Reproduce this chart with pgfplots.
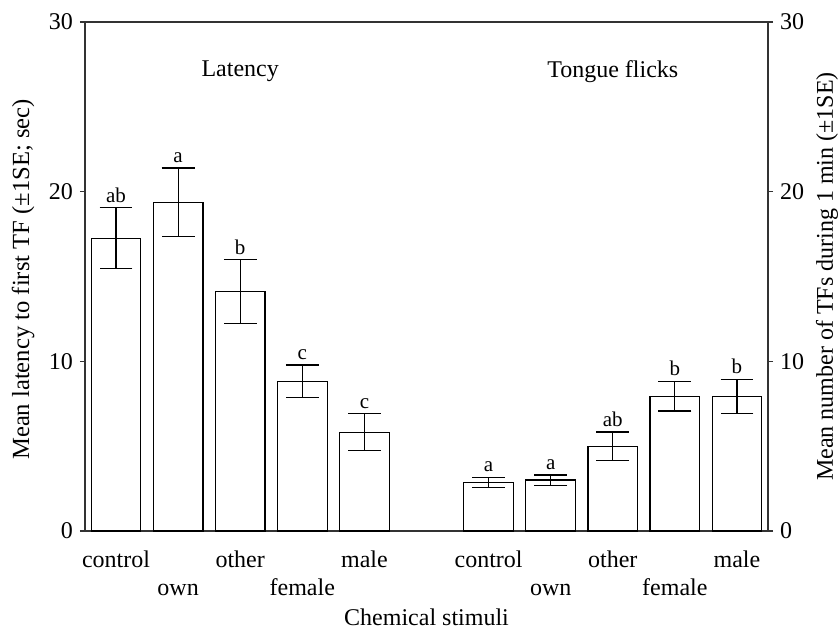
\documentclass[border=0pt]{standalone}
\usepackage{fontspec}
\setmainfont{Liberation Serif}
\usepackage{pgfplots}
\pgfplotsset{compat=1.18}
\usepackage{pgfplotstable}
\pgfplotstableread{
x y err lab
1 17.25 1.80 ab
2 19.37 2.02 a
3 14.12 1.87 b
4 8.82 0.96 c
5 5.82 1.09 c
7 2.87 0.30 a
8 3.00 0.30 a
9 5.00 0.83 ab
10 7.94 0.87 b
11 7.94 1.00 b
}\datatable
\begin{document}
\begin{tikzpicture}[font=\fontsize{12}{14}\selectfont]
\useasboundingbox (-42.5pt,-49.5pt) rectangle (376.5pt,265.5pt);
\begin{axis}[
  at={(0,0)}, anchor=south west,
  scale only axis, width=341.5pt, height=254.5pt,
  xmin=0.5, xmax=11.5, ymin=0, ymax=30,
  axis line style={black!80, line width=0.6pt},
  ytick={0,10,20,30}, ytick pos=left, tick align=outside,
  major tick length=2.5pt,
  ytick style={black!80, line width=0.6pt},
  xtick={1,3,5,7,9,11},
  xticklabels={control,other,male,control,other,male},
  extra x ticks={2,4,8,10},
  extra x tick labels={own,female,own,female},
  extra x tick style={xticklabel style={yshift=-14.3pt}},
  xtick style={draw=none},
  xticklabel style={anchor=base, yshift=-15.5pt},
  /pgf/number format/assume math mode=true,
  tick label style={font=\fontsize{12}{14}\selectfont},
  xlabel={Chemical stimuli},
  xlabel style={at={([yshift=-47pt]axis description cs:0.5,0)}, anchor=base},
  ylabel={Mean latency to first TF (±1SE; sec)},
  ylabel style={at={([xshift=-31pt,yshift=-1.5pt]axis description cs:0,0.5)}, anchor=center, font=\fontsize{12.3}{14}\selectfont},
  clip=false,
]
\addplot[ybar, bar width=0.8, fill=white, draw=black, line width=0.6pt,
  error bars/.cd, y dir=both, y explicit, error mark=-,
  error bar style={line width=0.6pt, black},
  error mark options={rotate=90, line width=0.6pt, black, mark size=8.2pt}]
  table[x=x, y=y, y error=err] {\datatable};
\addplot[only marks, mark=*, mark size=0pt, mark options={draw=none, fill=none},
  nodes near coords, point meta=explicit symbolic,
  nodes near coords style={anchor=south, inner sep=2.5pt, text=black, font=\fontsize{10.5}{12}\selectfont}]
  table[x=x, y expr=\thisrow{y}+\thisrow{err}, meta=lab] {\datatable};
\node at (axis cs:3,27.1) {Latency};
\node at (axis cs:9,27.1) {Tongue flicks};
\end{axis}
\begin{axis}[
  at={(0,0)}, anchor=south west,
  scale only axis, width=341.5pt, height=254.5pt,
  xmin=0.5, xmax=11.5, ymin=0, ymax=30,
  axis x line=none, axis y line*=right,
  axis line style={black!80, line width=0.6pt},
  ytick={0,10,20,30}, tick align=outside, major tick length=2.5pt,
  ytick style={black!80, line width=0.6pt},
  /pgf/number format/assume math mode=true,
  tick label style={font=\fontsize{12}{14}\selectfont},
  ylabel={Mean number of TFs during 1 min (±1SE)},
  ylabel style={at={([xshift=29.5pt]axis description cs:1,0.5)}, anchor=center, rotate=0, font=\fontsize{12}{14}\selectfont},
]
\addplot[draw=none] coordinates {(1,0)};
\end{axis}
\end{tikzpicture}
\end{document}
